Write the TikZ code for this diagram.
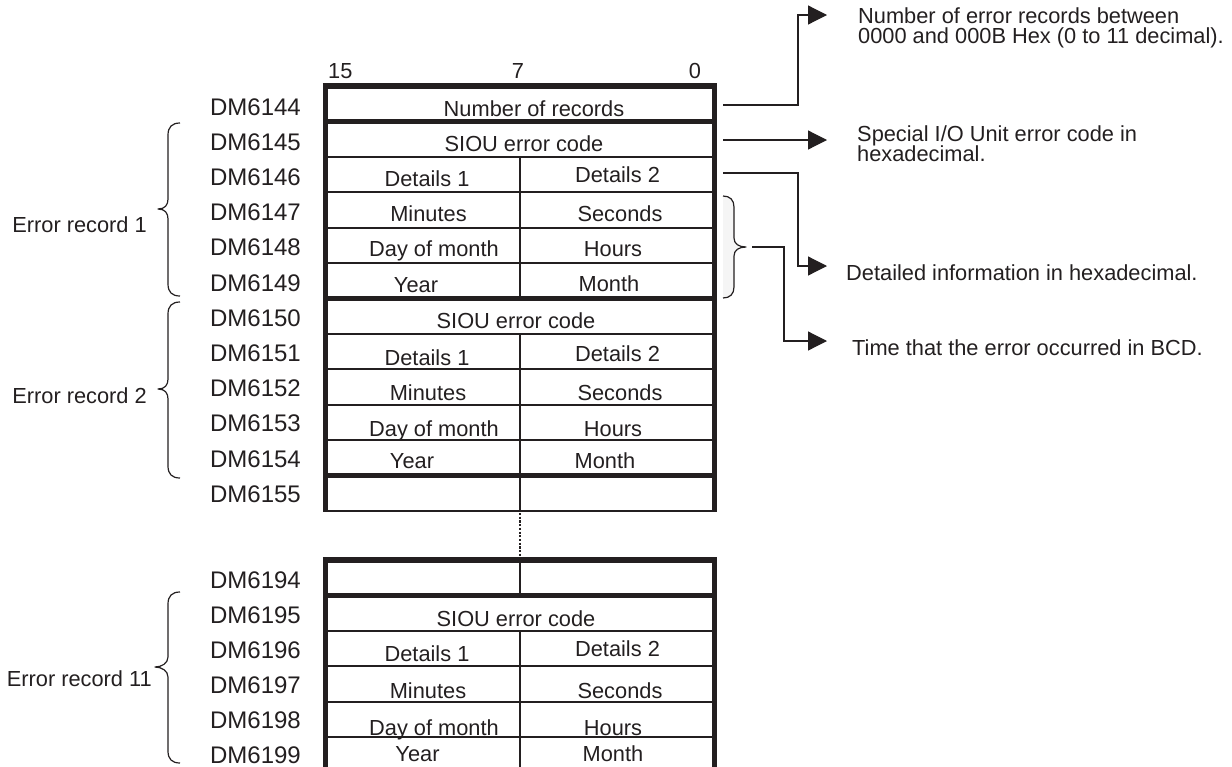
\documentclass[tikz,border=0pt]{standalone}
\usepackage{fontspec}
\setmainfont{Liberation Sans}
\usetikzlibrary{arrows.meta}
\definecolor{ink}{RGB}{35,31,32}
\newcommand{\notefont}{\fontsize{21.8}{19.5}\selectfont\setlength{\lineskiplimit}{-30pt}\setlength{\lineskip}{0pt}}
\newcommand{\recbrace}[4]{% #1 top y, #2 tip y, #3 bottom y, #4 tip x
  \draw[brace] (180,#1) .. controls (172,#1) and (168,{#1+4}) .. (168,{#1+12})
    -- (168,{#2-10}) .. controls (168,{#2-4}) and ({#4+7},#2) .. (#4,#2)
    .. controls ({#4+7},#2) and (168,{#2+4}) .. (168,{#2+10})
    -- (168,{#3-12}) .. controls (168,{#3-4}) and (172,#3) .. (180,#3);}
\begin{document}
\begin{tikzpicture}[x=1pt,y=-1pt,
  txt/.style={font=\fontsize{21.8}{24}\selectfont, text=ink, inner sep=0pt, anchor=base},
  dm/.style={font=\fontsize{24}{26}\selectfont, text=ink, inner sep=0pt, anchor=base east},
  lbl/.style={font=\fontsize{21.8}{24}\selectfont, text=ink, inner sep=0pt, anchor=base east},
  note/.style={font=\notefont, text=ink, inner sep=0pt, anchor=base west, align=left},
  thickln/.style={line width=5.5pt, draw=ink},
  thinln/.style={line width=1.9pt, draw=ink},
  conn/.style={line width=1.2pt, draw=ink},
  arr/.style={conn, -{Triangle[length=19pt,width=19pt]}},
  brace/.style={line width=1.2pt, draw=ink, line join=round},
  dots/.style={line width=2.2pt, draw=ink, dash pattern=on 2.2pt off 1.5pt},
]
\useasboundingbox (0,0) rectangle (1232,766);
\begin{scope}
\clip (0,0) rectangle (1232,766);

% ---------- bit headers ----------
\node[txt, anchor=base west] (b15) at (328,78) {15};
\node[txt] (b7) at (518,78) {7};
\node[txt] (b0) at (695,78) {0};

% ---------- block 1 grid ----------
\foreach \k in {2,3,4,5,7,8,9,10,12}
  \draw[thinln] (325.5,{86+35.4*\k}) -- (714.5,{86+35.4*\k});
\draw[thinln] (520,156.8) -- (520,298.4);
\draw[thinln] (520,333.8) -- (520,510.8);
\draw[thickln] (322.75,86) -- (717.25,86);
\foreach \k in {1,6,11}
  \draw[thickln] (325.5,{86+35.4*\k}) -- (714.5,{86+35.4*\k});
\draw[thickln] (325.5,86) -- (325.5,511.7);
\draw[thickln] (714.5,86) -- (714.5,511.7);

% dotted continuation
\draw[dots] (520,513) -- (520,558);

% ---------- block 2 grid ----------
\foreach \k in {2,3,4,5}
  \draw[thinln] (325.5,{560+35.4*\k}) -- (714.5,{560+35.4*\k});
\draw[thinln] (520,560) -- (520,595.4);
\draw[thinln] (520,630.8) -- (520,775);
\draw[thickln] (322.75,560) -- (717.25,560);
\draw[thickln] (325.5,595.4) -- (714.5,595.4);
\draw[thickln] (325.5,560) -- (325.5,775);
\draw[thickln] (714.5,560) -- (714.5,775);

% ---------- cell texts block 1 ----------
\node[txt] (nrec) at (534,116.7) {Number of records};
\node[txt] (siou1) at (524,151.7) {SIOU error code};
\node[txt] (d11) at (427,186) {Details 1};
\node[txt] (d21) at (617.5,182.7) {Details 2};
\node[txt] (min1) at (428.5,221.7) {Minutes};
\node[txt] (sec1) at (620,221.7) {Seconds};
\node[txt] (day1) at (434,256.7) {Day of month};
\node[txt] (hr1) at (613,256.7) {Hours};
\node[txt] (yr1) at (416,292.7) {Year};
\node[txt] (mo1) at (609,291.7) {Month};
\node[txt] (siou2) at (516,328.3) {SIOU error code};
\node[txt] (d12) at (427,365) {Details 1};
\node[txt] (d22) at (617.5,361.7) {Details 2};
\node[txt] (min2) at (428,400) {Minutes};
\node[txt] (sec2) at (620,400) {Seconds};
\node[txt] (day2) at (434,436.7) {Day of month};
\node[txt] (hr2) at (613,436.7) {Hours};
\node[txt] (yr2) at (412,468.3) {Year};
\node[txt] (mo2) at (605,468.3) {Month};

% ---------- cell texts block 2 ----------
\node[txt] (siou3) at (516,626.7) {SIOU error code};
\node[txt] (d13) at (427,661.7) {Details 1};
\node[txt] (d23) at (617.5,656.7) {Details 2};
\node[txt] (min3) at (428,698.3) {Minutes};
\node[txt] (sec3) at (620,698.3) {Seconds};
\node[txt] (day3) at (434,735) {Day of month};
\node[txt] (hr3) at (613,735) {Hours};
\node[txt] (yr3) at (417.5,761) {Year};
\node[txt] (mo3) at (613,761) {Month};

% ---------- DM labels ----------
\foreach \n [count=\i from 0] in {6144,6145,6146,6147,6148,6149,6150,6151,6152,6153,6154,6155}
  \node[dm] (dm\n) at (301,{115+35.2*\i}) {DM\n};
\foreach \n [count=\i from 0] in {6194,6195,6196,6197,6198,6199}
  \node[dm] (dm\n) at (301,{588+35*\i}) {DM\n};

% ---------- left braces and record labels ----------
\recbrace{123}{209}{296}{158}
\recbrace{302}{389}{478}{158}
\recbrace{592}{667}{763}{155}
\node[lbl] (er1) at (147,232.7) {Error record 1};
\node[lbl] (er2) at (147,403) {Error record 2};
\node[lbl] (er11) at (152,686.7) {Error record 11};

% ---------- right brace (time) ----------
\fill[black!4] (723,196) .. controls (730,196) and (734,200) .. (734,207)
    -- (734,238) .. controls (734,244) and (739,247) .. (746,247)
    .. controls (739,247) and (734,250) .. (734,256)
    -- (734,287) .. controls (734,294) and (730,298) .. (723,298) -- cycle;
\draw[brace] (723,196) .. controls (730,196) and (734,200) .. (734,207)
    -- (734,238) .. controls (734,244) and (739,247) .. (746,247)
    .. controls (739,247) and (734,250) .. (734,256)
    -- (734,287) .. controls (734,294) and (730,298) .. (723,298);

% ---------- annotation texts (base = last line) ----------
\node[note] (n1) at (858,43) {Number of error records between\\0000 and 000B Hex (0 to 11 decimal).};
\node[note] (n2) at (857,161) {Special I/O Unit error code in\\hexadecimal.};
\node[note] (n3) at (846,280) {Detailed information in hexadecimal.};
\node[note] (n4) at (852,355) {Time that the error occurred in BCD.};

% ---------- connectors ----------
\coordinate (s1) at (723,105);
\coordinate (s2) at (723,140);
\coordinate (s3) at (723,173);
\coordinate (s4) at (752,247);
\coordinate (t1) at (827,15);
\coordinate (t2) at (827,140);
\coordinate (t3) at (827,266);
\coordinate (t4) at (827,341);
\draw[arr] (s1) -- (798,105) |- (t1);
\draw[arr] (s2) -- (t2);
\draw[arr] (s3) -- (798,173) |- (t3);
\draw[arr] (s4) -- (784,247) |- (t4);
\end{scope}
\end{tikzpicture}
\end{document}
